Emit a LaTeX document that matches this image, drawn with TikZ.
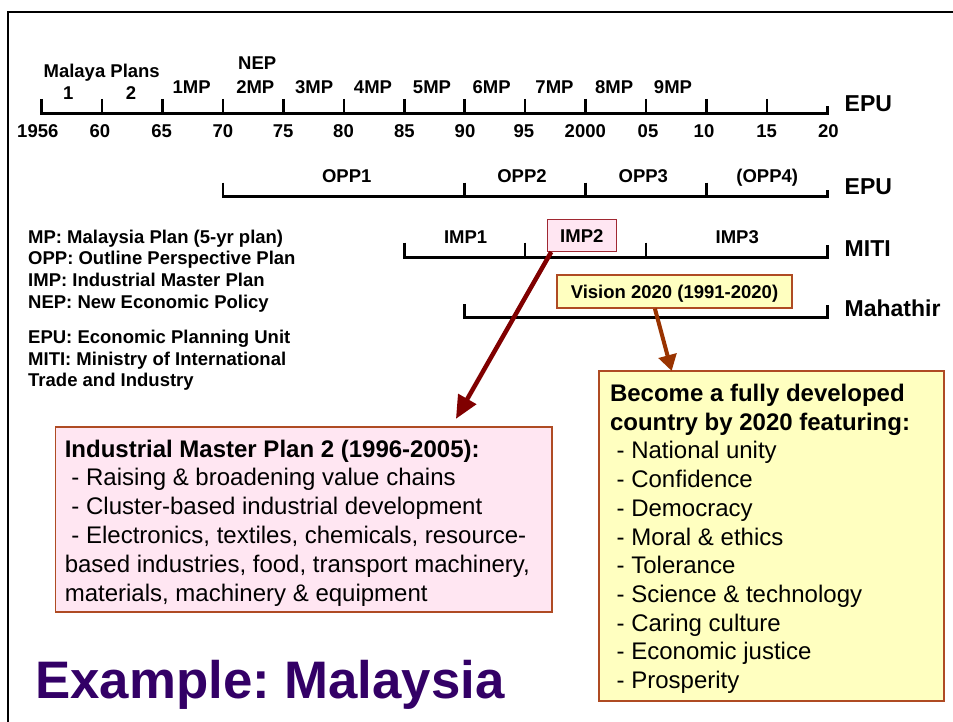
\documentclass[tikz,border=0pt]{standalone}
\usepackage{fontspec}
\setmainfont{Liberation Sans}
\usetikzlibrary{arrows.meta,calc}
\definecolor{pinkfill}{RGB}{255,230,242}
\definecolor{yellowfill}{RGB}{255,255,192}
\definecolor{impborder}{RGB}{160,40,50}
\definecolor{boxbrown}{RGB}{175,75,35}
\definecolor{arrowred}{RGB}{128,0,0}
\definecolor{arrowbrown}{RGB}{153,51,0}
\definecolor{titlepurple}{RGB}{51,0,102}
\newcommand\tkx[1]{41.7+60.43*#1}
\newcommand\normspaces{\spaceskip=0pt \xspaceskip=0pt }
\frenchspacing
\begin{document}
\begin{tikzpicture}[x=1pt,y=-1pt,
  lbl/.style={font=\fontsize{18.5}{21.7}\selectfont\bfseries, inner sep=0, anchor=base},
  org/.style={font=\fontsize{23}{27}\selectfont\bfseries, inner sep=0, anchor=base west},
  axis/.style={line width=2.6pt},
  bigbox/.style={draw=boxbrown, line width=1.8pt, anchor=north west, outer sep=0, inner ysep=0, align=left},
  redarrow/.style={draw=arrowred, line width=4.5pt, -{Triangle[length=23pt,width=20pt]}},
  brownarrow/.style={draw=arrowbrown, line width=4pt, -{Triangle[length=16pt,width=18pt]}}]
\useasboundingbox (0,0) rectangle (953,722);
% frame
\draw[line width=2.3pt] (8.3,722) -- (8.3,12.3) -- (953,12.3);
% timeline 1 (Malaysia Plans)
\draw[axis] ({\tkx{0}},99) -- ({\tkx{0}},113.5) -- ({\tkx{13}},113.5) -- ({\tkx{13}},106.5);
\foreach \i in {1,...,12} \draw[axis] ({\tkx{\i}},99) -- ({\tkx{\i}},113.5);
\node[lbl] (mpl) at (101.7,77.7) {Malaya Plans};
\node[lbl] (mp1) at (68.3,99.3) {1};
\node[lbl] (mp2) at (131,99.3) {2};
\node[lbl] (nep) at (257.2,69.3) {NEP};
\foreach \n/\x in {1/191.7,2/255.3,3/314.2,4/373,5/432,6/491.7,7/554.5,8/614.2,9/673}
  \node[lbl] (mp\n) at (\x,93.3) {\n MP};
\foreach \t/\x [count=\k] in {1956/37.8,60/99.8,65/161.7,70/223,75/283.2,80/343.5,85/404.3,90/465,95/523.8,2000/585.3,05/648,10/704,15/766.7,20/828.3}
  \node[lbl] (yr\k) at (\x,137.5) {\t};
\node[org] (epu1) at (844.5,111.7) {EPU};
% timeline 2 (OPP)
\draw[axis] ({\tkx{3}},182.7) -- ({\tkx{3}},196.7) -- ({\tkx{13}},196.7) -- ({\tkx{13}},190);
\foreach \i in {7,9,11} \draw[axis] ({\tkx{\i}},182.7) -- ({\tkx{\i}},196.7);
\node[lbl] (opp1) at (346.7,182.7) {OPP1};
\node[lbl] (opp2) at (522,182.7) {OPP2};
\node[lbl] (opp3) at (643.3,182.7) {OPP3};
\node[lbl] (opp4) at (767.2,182.7) {(OPP4)};
\node[org] (epu2) at (844.5,195) {EPU};
% timeline 3 (IMP)
\draw[axis] ({\tkx{6}},242.7) -- ({\tkx{6}},257.5) -- ({\tkx{13}},257.5) -- ({\tkx{13}},245);
\foreach \i in {8,10} \draw[axis] ({\tkx{\i}},242.7) -- ({\tkx{\i}},257.5);
\node[lbl] (imp1) at (465.6,243.3) {IMP1};
\node[lbl] (imp3) at (737.2,243.3) {IMP3};
\node[lbl, anchor=center, draw=impborder, fill=pinkfill, line width=1pt, minimum width=68.5, minimum height=31.5, text depth=0pt] (imp2) at (581.8,235.7) {IMP2};
\node[org] (miti) at (844.5,256.7) {MITI};
% timeline 4 (Mahathir)
\draw[axis] ({\tkx{7}},304) -- ({\tkx{7}},317.5) -- ({\tkx{13}},317.5) -- ({\tkx{13}},305);
\node[lbl, anchor=center, draw=boxbrown, fill=yellowfill, line width=1.2pt, minimum width=235, minimum height=33, text depth=0pt] (vision) at (674.5,291.5) {Vision 2020 (1991-2020)};
\node[org] (mahathir) at (844.5,316) {Mahathir};
% legend
\node[anchor=base west, inner sep=0, text width=300, align=left, font=\fontsize{18.5}{21.7}\selectfont\bfseries] (legend) at (28,243.3)
  {\normspaces MP: Malaysia Plan (5-yr plan)\\ OPP: Outline Perspective Plan\\ IMP: Industrial Master Plan\\ NEP: New Economic Policy\\[13.3pt] EPU: Economic Planning Unit\\ MITI: Ministry of International\\ Trade and Industry};
% IMP2 detail box
\node[bigbox, fill=pinkfill, inner xsep=9.3, text width=478.2, text height=29.7, text depth=155.3, font=\fontsize{24}{28.8}\selectfont] (imp2plan) at (55.5,427.3)
  {\normspaces{\bfseries Industrial Master Plan 2 (1996-2005):}\\
   \hspace*{6.67pt}- Raising \& broadening value chains\\
   \hspace*{6.67pt}- Cluster-based industrial development\\
   \hspace*{6.67pt}- Electronics, textiles, chemicals, resource-\\
   based industries, food, transport machinery,\\
   materials, machinery \& equipment};
% Vision detail box
\node[bigbox, fill=yellowfill, inner xsep=11, text width=323.3, text height=30.5, text depth=299.2, font=\fontsize{24}{28.7}\selectfont] (goals) at (599,371)
  {\normspaces{\bfseries Become a fully developed\\ country by 2020 featuring:}\\
   \hspace*{6.67pt}- National unity\\
   \hspace*{6.67pt}- Confidence\\
   \hspace*{6.67pt}- Democracy\\
   \hspace*{6.67pt}- Moral \& ethics\\
   \hspace*{6.67pt}- Tolerance\\
   \hspace*{6.67pt}- Science \& technology\\
   \hspace*{6.67pt}- Caring culture\\
   \hspace*{6.67pt}- Economic justice\\
   \hspace*{6.67pt}- Prosperity};
% title
\node[anchor=base west, inner sep=0, text=titlepurple, font=\fontsize{52.8}{60}\selectfont\bfseries] (title) at (35,698) {Example: Malaysia};
% arrows
\draw[redarrow] ($(imp2.south west)!0.06!(imp2.south east)$) -- ($(imp2plan.north west)!0.806!(imp2plan.north east)+(0,-8.4)$);
\draw[brownarrow] ($(vision.south west)!0.417!(vision.south east)$) -- ($(goals.north west)!0.2105!(goals.north east)$);
\end{tikzpicture}
\end{document}
